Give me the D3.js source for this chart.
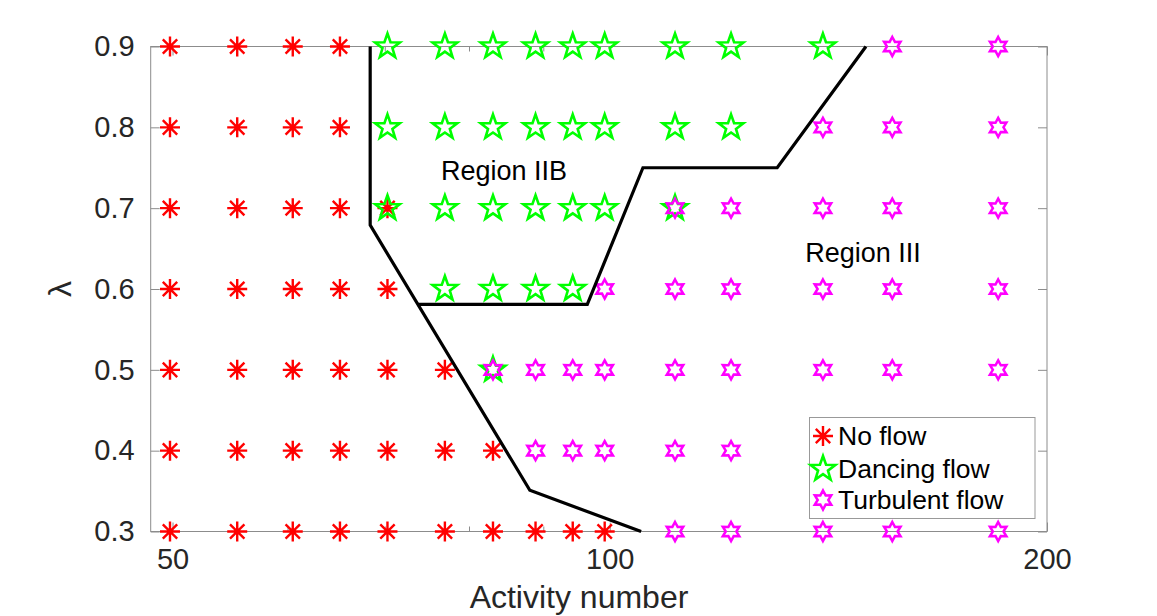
<!DOCTYPE html>
<html>
<head>
<meta charset="utf-8">
<script src="https://cdn.jsdelivr.net/npm/d3@7"></script>
<style>
  body { margin: 0; background: #fff; }
  text { font-family: "Liberation Sans", Arial, Helvetica, sans-serif; }
</style>
</head>
<body>
<script>
const width = 1157;
const height = 616;

// activity numbers of the sampled columns
const activity = [49.8, 55.4, 60.5, 65.2, 70.3, 77.0, 83.1, 88.9, 94.3, 99.2, 110.9, 121.2, 140.2, 156.5, 185.1];
const lambdaTicks = [0.3, 0.4, 0.5, 0.6, 0.7, 0.8, 0.9];
const xTicks = [50, 100, 200];
const xMinorTicks = [60, 70, 80, 90];

// which columns (index into activity) show each regime, per lambda
const noFlowCols = [
  [0.9, [0, 1, 2, 3]],
  [0.8, [0, 1, 2, 3]],
  [0.7, [0, 1, 2, 3, 4]],
  [0.6, [0, 1, 2, 3, 4]],
  [0.5, [0, 1, 2, 3, 4, 5]],
  [0.4, [0, 1, 2, 3, 4, 5, 6]],
  [0.3, [0, 1, 2, 3, 4, 5, 6, 7, 8, 9]]
];
const dancingCols = [
  [0.9, [4, 5, 6, 7, 8, 9, 10, 11, 12]],
  [0.8, [4, 5, 6, 7, 8, 9, 10, 11]],
  [0.7, [4, 5, 6, 7, 8, 9, 10]],
  [0.6, [5, 6, 7, 8]],
  [0.5, [6]]
];
const turbulentCols = [
  [0.9, [13, 14]],
  [0.8, [12, 13, 14]],
  [0.7, [10, 11, 12, 13, 14]],
  [0.6, [9, 10, 11, 12, 13, 14]],
  [0.5, [6, 7, 8, 9, 10, 11, 12, 13, 14]],
  [0.4, [7, 8, 9, 10, 11, 12, 13, 14]],
  [0.3, [10, 11, 12, 13, 14]]
];

// regime boundaries [activity, lambda]
const boundaryLeft = [[68.4, 0.9], [68.4, 0.679], [88.1, 0.351], [105.1, 0.3]];
const boundaryUpper = [[73.8, 0.581], [96.5, 0.581], [105.4, 0.75], [130.4, 0.75], [150.1, 0.9]];

const legendLabels = ["No flow", "Dancing flow", "Turbulent flow"];

const toPoints = (rows) => rows.flatMap(([lam, cols]) => cols.map((c) => ({ x: activity[c], y: lam })));

const margin = { left: 150.7, right: width - 1047, top: 46.5, bottom: height - 531.5 };

const svg = d3.select("body").append("svg").attr("width", width).attr("height", height);
svg.append("rect").attr("width", width).attr("height", height).attr("fill", "#fff");

const xScale = d3.scaleLog().domain([48.3, 200]).range([margin.left, width - margin.right]);
const yScale = d3.scaleLinear().domain([0.3, 0.9]).range([height - margin.bottom, margin.top]);

const axisColor = "#8c8c8c";
const textColor = "#262626";

// plot box
svg.append("rect")
  .attr("x", margin.left).attr("y", margin.top)
  .attr("width", xScale.range()[1] - margin.left)
  .attr("height", yScale.range()[0] - margin.top)
  .attr("fill", "none").attr("stroke", axisColor).attr("stroke-width", 1);

function styleAxis(g) {
  g.select(".domain").remove();
  g.selectAll(".tick line").attr("stroke", axisColor);
  g.selectAll(".tick text").attr("fill", textColor).attr("font-size", 29);
}

svg.append("g")
  .attr("transform", `translate(${margin.left},0)`)
  .call(d3.axisLeft(yScale).tickValues(lambdaTicks).tickFormat(d3.format(".1f")).tickSize(-9).tickPadding(16))
  .call(styleAxis);
svg.append("g")
  .attr("transform", `translate(${xScale.range()[1]},0)`)
  .call(d3.axisRight(yScale).tickValues(lambdaTicks).tickFormat("").tickSize(-9))
  .call(styleAxis);
svg.append("g")
  .attr("transform", `translate(0,${yScale.range()[0]})`)
  .call(d3.axisBottom(xScale).tickValues(xTicks).tickFormat(d3.format("d")).tickSize(-9).tickPadding(16.5))
  .call(styleAxis);
svg.append("g")
  .attr("transform", `translate(0,${yScale.range()[0]})`)
  .call(d3.axisBottom(xScale).tickValues(xMinorTicks).tickFormat("").tickSize(-5))
  .call(styleAxis);
svg.append("g")
  .attr("transform", `translate(0,${margin.top})`)
  .call(d3.axisTop(xScale).tickValues(xTicks).tickFormat("").tickSize(-9))
  .call(styleAxis);
svg.append("g")
  .attr("transform", `translate(0,${margin.top})`)
  .call(d3.axisTop(xScale).tickValues(xMinorTicks).tickFormat("").tickSize(-5))
  .call(styleAxis);

// axis labels
svg.append("text")
  .attr("x", 579).attr("y", 608)
  .attr("text-anchor", "middle").attr("font-size", 32).attr("fill", textColor)
  .text("Activity number");
svg.append("text")
  .attr("transform", `translate(71,${(margin.top + yScale.range()[0]) / 2}) rotate(-90)`)
  .attr("text-anchor", "middle").attr("font-size", 32).attr("fill", textColor)
  .text("λ");

// marker shapes
function starPath(n, R, r) {
  const pts = [];
  for (let i = 0; i < 2 * n; i++) {
    const a = -Math.PI / 2 + (i * Math.PI) / n;
    const rad = i % 2 === 0 ? R : r;
    pts.push([rad * Math.cos(a), rad * Math.sin(a)]);
  }
  return "M" + pts.map((p) => p.join(",")).join("L") + "Z";
}
function asteriskPath(R) {
  const d = R * 0.72;
  return `M${-R},0L${R},0M0,${-R}L0,${R}M${-d},${-d}L${d},${d}M${-d},${d}L${d},${-d}`;
}

const series = [
  { name: legendLabels[0], pts: toPoints(noFlowCols), path: asteriskPath(10), color: "#ff0000", sw: 2.4 },
  { name: legendLabels[1], pts: toPoints(dancingCols), path: starPath(5, 13, 5.2), color: "#00ff00", sw: 2.6 },
  { name: legendLabels[2], pts: toPoints(turbulentCols), path: starPath(6, 9.5, 5.3), color: "#ff00ff", sw: 2.5 }
];

series.forEach((s) => {
  svg.append("g").selectAll("path")
    .data(s.pts)
    .join("path")
    .attr("transform", (d) => `translate(${xScale(d.x)},${yScale(d.y)})`)
    .attr("d", s.path)
    .attr("fill", "none")
    .attr("stroke", s.color)
    .attr("stroke-width", s.sw)
    .attr("stroke-linejoin", "miter");
});

// boundaries
const line = d3.line().x((d) => xScale(d[0])).y((d) => yScale(d[1]));
[boundaryLeft, boundaryUpper].forEach((b) => {
  svg.append("path")
    .datum(b)
    .attr("d", line)
    .attr("fill", "none")
    .attr("stroke", "#000")
    .attr("stroke-width", 3.2);
});

// region labels
svg.append("text").attr("x", 504).attr("y", 180)
  .attr("text-anchor", "middle").attr("font-size", 27).attr("fill", "#000").text("Region IIB");
svg.append("text").attr("x", 863).attr("y", 262)
  .attr("text-anchor", "middle").attr("font-size", 27).attr("fill", "#000").text("Region III");

// legend
const legend = svg.append("g");
legend.append("rect")
  .attr("x", 809.5).attr("y", 417.5).attr("width", 225.5).attr("height", 101)
  .attr("fill", "#fff").attr("stroke", "#999").attr("stroke-width", 1);
const legendRowsY = [436, 469, 500];
series.forEach((s, i) => {
  legend.append("path")
    .attr("transform", `translate(823,${legendRowsY[i]})`)
    .attr("d", s.path)
    .attr("fill", "none")
    .attr("stroke", s.color)
    .attr("stroke-width", s.sw);
  legend.append("text")
    .attr("x", 838).attr("y", legendRowsY[i]).attr("dy", "0.35em")
    .attr("font-size", 26.5).attr("fill", "#000")
    .text(s.name);
});
</script>
</body>
</html>
